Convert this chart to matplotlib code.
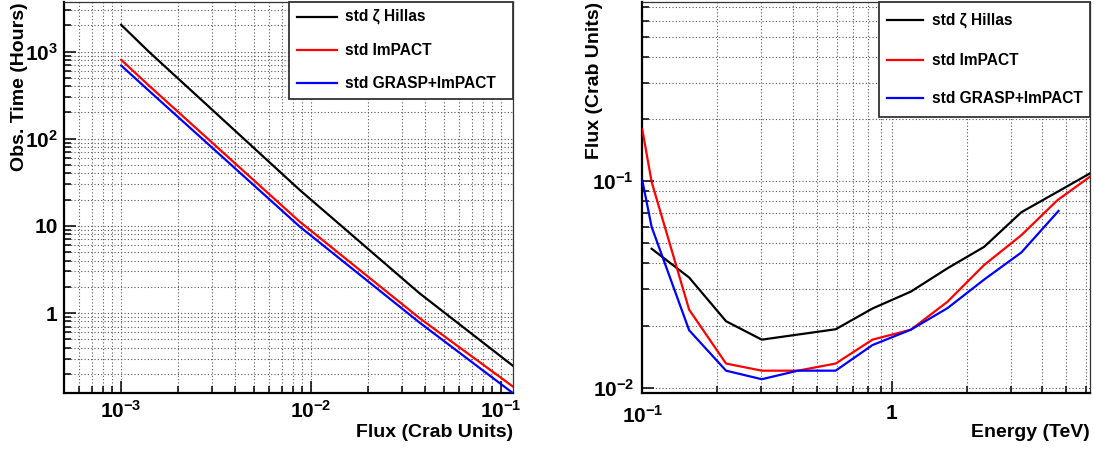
import matplotlib
matplotlib.use('Agg')
import matplotlib.pyplot as plt
from matplotlib.ticker import LogLocator, NullFormatter
from matplotlib.patches import Rectangle

plt.rcParams['font.family'] = ['Liberation Sans', 'DejaVu Sans']
plt.rcParams['font.weight'] = 'bold'
plt.rcParams['mathtext.fontset'] = 'custom'
plt.rcParams['mathtext.rm'] = 'Liberation Sans:bold'
plt.rcParams['mathtext.bf'] = 'Liberation Sans:bold'
plt.rcParams['mathtext.it'] = 'Liberation Sans:bold'
plt.rcParams['mathtext.default'] = 'rm'

# ---------------- data ----------------
series_labels = ['std \u03b6 Hillas', 'std ImPACT', 'std GRASP+ImPACT']
series_colors = ['black', '#ff0000', '#0000ff']

# Left panel: observation time vs flux
flux = [1.0e-3, 1.41e-3, 8.7e-3, 3.72e-2, 0.1154]
time_hillas = [2024, 979, 25.9, 1.69, 0.249]
time_impact = [803, 401, 11.2, 0.877, 0.144]
time_grasp = [691, 350, 9.84, 0.78, 0.121]

left_xticks = [1e-3, 1e-2, 1e-1]
left_xticklabels = [r'$10^{-3}$', r'$10^{-2}$', r'$10^{-1}$']
left_yticks = [1, 10, 100, 1000]
left_yticklabels = ['1', '10', r'$10^{2}$', r'$10^{3}$']

# Right panel: sensitivity vs energy
e_hillas = [0.109, 0.154, 0.2165, 0.301, 0.595, 0.836, 1.19, 1.67, 2.34, 3.3, 4.6, 6.2]
f_hillas = [0.0471, 0.0342, 0.0210, 0.0171, 0.0192, 0.0242, 0.0292, 0.0379, 0.0481, 0.0708, 0.0888, 0.109]
e_impact = [0.1, 0.109, 0.154, 0.2165, 0.301, 0.42, 0.595, 0.836, 1.19, 1.67, 2.34, 3.3, 4.6, 6.2]
f_impact = [0.178, 0.0993, 0.0239, 0.0131, 0.0121, 0.0121, 0.0131, 0.0171, 0.0191, 0.0261, 0.0393, 0.0548, 0.0809, 0.105]
e_grasp = [0.1, 0.109, 0.154, 0.2165, 0.301, 0.42, 0.595, 0.836, 1.19, 1.67, 2.34, 3.3, 4.65]
f_grasp = [0.101, 0.0601, 0.019, 0.0121, 0.011, 0.0121, 0.0121, 0.0161, 0.0191, 0.0243, 0.0334, 0.0452, 0.0718]

right_xticks = [0.1, 1]
right_xticklabels = [r'$10^{-1}$', '1']
right_yticks = [0.01, 0.1]
right_yticklabels = [r'$10^{-2}$', r'$10^{-1}$']

# ---------------- figure ----------------
fig = plt.figure(figsize=(10.94, 4.51), dpi=100)
ax1 = fig.add_axes([0.0585, 0.1286, 0.4104, 0.8670])
ax2 = fig.add_axes([0.5871, 0.1279, 0.4090, 0.8683])

TICK_FS = 15
LABEL_FS = 14
LEG_FS = 11.2


def style_axes(ax, xticks, xlabels, yticks, ylabels, xpad, ypad):
    ax.set_xscale('log')
    ax.set_yscale('log')
    ax.xaxis.set_minor_locator(LogLocator(base=10, subs=range(2, 10), numticks=50))
    ax.yaxis.set_minor_locator(LogLocator(base=10, subs=range(2, 10), numticks=50))
    ax.set_xticks(xticks, labels=xlabels)
    ax.set_yticks(yticks, labels=ylabels)
    ax.xaxis.set_minor_formatter(NullFormatter())
    ax.yaxis.set_minor_formatter(NullFormatter())
    ax.grid(True, which='both', axis='both', color='#555555',
            linestyle=(0, (1, 2)), linewidth=0.8)
    ax.tick_params(which='both', direction='in', top=False, right=False,
                   width=1.1, colors='black', labelsize=TICK_FS)
    ax.tick_params(which='major', length=8.5)
    ax.tick_params(which='minor', length=5)
    ax.tick_params(axis='x', which='major', pad=xpad)
    ax.tick_params(axis='y', which='major', pad=ypad)
    for lab in ax.get_xticklabels() + ax.get_yticklabels():
        lab.set_fontweight('bold')
    ax.spines['left'].set_linewidth(1.6)
    ax.spines['bottom'].set_linewidth(1.6)
    ax.spines['top'].set_linewidth(0.9)
    ax.spines['right'].set_linewidth(0.9)
    ax.spines['top'].set_color('#333333')
    ax.spines['right'].set_color('#333333')


def draw_legend(ax, box, line_x, rows, text_x):
    ax.add_patch(Rectangle((box[0], box[1]), box[2] - box[0], box[3] - box[1],
                           transform=ax.transAxes, facecolor='white',
                           edgecolor='#333333', lw=1.3, zorder=5, clip_on=False))
    for y, lab, c in zip(rows, series_labels, series_colors):
        ax.plot(line_x, [y, y], transform=ax.transAxes, color=c, lw=1.6,
                zorder=6, clip_on=False)
        ax.text(text_x, y, lab, transform=ax.transAxes, va='center', ha='left',
                fontsize=LEG_FS, fontweight='bold', zorder=6)


# Left panel
for t, c in zip([time_hillas, time_impact, time_grasp], series_colors):
    ax1.plot(flux, t, color=c, lw=1.6, zorder=3)
style_axes(ax1, left_xticks, left_xticklabels, left_yticks, left_yticklabels, 5, 4.5)
ax1.set_xlim(5.0e-4, 0.1157)
ax1.set_ylim(0.121, 3700)
ax1.set_xlabel('Flux (Crab Units)', fontsize=LABEL_FS, fontweight='bold',
               loc='right', va='center')
ax1.xaxis.set_label_coords(1.0, -0.102)
ax1.set_ylabel('Obs. Time (Hours)', fontsize=LABEL_FS, fontweight='bold',
               loc='top', va='center')
ax1.yaxis.set_label_coords(-0.100, 1.0)
draw_legend(ax1, (0.5011, 0.7519, 1.0, 1.0), [0.5189, 0.608],
            [0.9624, 0.8772, 0.7921], 0.6258)

# Right panel
for e, f, c in zip([e_hillas, e_impact, e_grasp], [f_hillas, f_impact, f_grasp], series_colors):
    ax2.plot(e, f, color=c, lw=1.6, zorder=3)
style_axes(ax2, right_xticks, right_xticklabels, right_yticks, right_yticklabels, 8, 6)
ax2.set_xlim(0.1, 6.2)
ax2.set_ylim(0.0094, 0.74)
ax2.set_xlabel('Energy (TeV)', fontsize=LABEL_FS, fontweight='bold',
               loc='right', va='center')
ax2.xaxis.set_label_coords(1.0, -0.100)
ax2.set_ylabel('Flux (Crab Units)', fontsize=LABEL_FS, fontweight='bold',
               loc='top', va='center')
ax2.yaxis.set_label_coords(-0.1057, 1.0)
draw_legend(ax2, (0.529, 0.7048, 1.0, 1.0), [0.5463, 0.6274],
            [0.9533, 0.8511, 0.7533], 0.6469)

fig.savefig('out.png', dpi=100)
